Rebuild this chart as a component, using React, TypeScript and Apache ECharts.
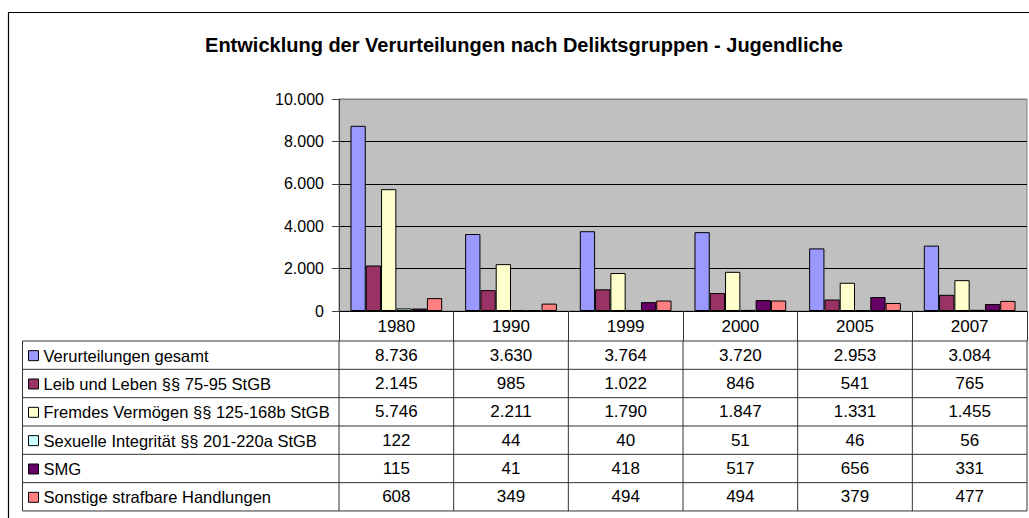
import React, { useEffect, useRef } from "react";
import * as echarts from "echarts";

const title = "Entwicklung der Verurteilungen nach Deliktsgruppen - Jugendliche";
const years = ["1980", "1990", "1999", "2000", "2005", "2007"];
const seriesNames = [
  "Verurteilungen gesamt",
  "Leib und Leben §§ 75-95 StGB",
  "Fremdes Vermögen §§ 125-168b StGB",
  "Sexuelle Integrität §§ 201-220a StGB",
  "SMG",
  "Sonstige strafbare Handlungen",
];
const gesamt = [8736, 3630, 3764, 3720, 2953, 3084];
const leibLeben = [2145, 985, 1022, 846, 541, 765];
const fremdesVermoegen = [5746, 2211, 1790, 1847, 1331, 1455];
const sexuelleIntegritaet = [122, 44, 40, 51, 46, 56];
const smg = [115, 41, 418, 517, 656, 331];
const sonstige = [608, 349, 494, 494, 379, 477];
const seriesValues = [gesamt, leibLeben, fremdesVermoegen, sexuelleIntegritaet, smg, sonstige];
const colors = ["#9999FF", "#993366", "#FFFFCC", "#CCFFFF", "#660066", "#FF8080"];

const FONT = 'Arial, "Liberation Sans", sans-serif';
const fmt = (n: number) => String(Math.round(n)).replace(/\B(?=(\d{3})+(?!\d))/g, ".");

export default function App() {
  const ref = useRef<HTMLDivElement>(null);
  useEffect(() => {
    if (!ref.current) return;
    const chart = echarts.init(ref.current, undefined, { renderer: "svg" });
    const GRID_LEFT = 339;
    const GRID_TOP = 99;
    const GRID_W = 688;
    const GRID_H = 212;
    const TICK_LEN = 30;
    const ROW_H = 28.33;
    const TABLE_LEFT = 22.5;
    const LEG_TEXT_H = 20;
    const TABLE_FS = 17;

    chart.setOption({
      animation: false,
      title: {
        text: title,
        left: 519,
        top: 30,
        textAlign: "center",
        textStyle: { fontFamily: FONT, fontSize: 20, fontWeight: "bold", color: "#000" },
      },
      legend: {
        orient: "vertical",
        left: 28,
        top: 341.5 + (ROW_H - LEG_TEXT_H) / 2,
        padding: 0,
        itemWidth: 10,
        itemHeight: 10,
        itemGap: ROW_H - LEG_TEXT_H,
        icon: "rect",
        itemStyle: { borderColor: "#000", borderWidth: 1 },
        textStyle: { fontFamily: FONT, fontSize: 16.5, color: "#000", lineHeight: LEG_TEXT_H },
        data: seriesNames,
      },
      grid: {
        left: GRID_LEFT,
        top: GRID_TOP,
        width: GRID_W,
        height: GRID_H,
        show: true,
        backgroundColor: "#C0C0C0",
        borderColor: "#808080",
        borderWidth: 1,
      },
      xAxis: {
        type: "category",
        data: years,
        boundaryGap: true,
        axisLine: { show: true, lineStyle: { color: "#000", width: 1 } },
        axisTick: { show: true, inside: false, length: TICK_LEN, lineStyle: { color: "#333" } },
        axisLabel: { margin: 7, fontFamily: FONT, fontSize: TABLE_FS, color: "#000" },
        splitLine: { show: false },
      },
      yAxis: {
        type: "value",
        min: 0,
        max: 10000,
        interval: 2000,
        axisLine: { show: true, lineStyle: { color: "#404040" } },
        axisTick: { show: true, length: 7, lineStyle: { color: "#404040" } },
        axisLabel: { margin: 15, fontFamily: FONT, fontSize: 16, color: "#000", formatter: (v: number) => fmt(v) },
        splitLine: {
          show: true,
          lineStyle: { color: ["#000", "#000", "#000", "#000", "#000", "#808080"], width: 1 },
        },
      },
      series: seriesNames.map((name, i) => ({
        name,
        type: "bar",
        data: seriesValues[i],
        barGap: "0%",
        barCategoryGap: "20%",
        itemStyle: { color: colors[i], borderColor: "#000", borderWidth: 1 },
      })),
    });

    // Build the data table from the axis scale
    const zeroY = chart.convertToPixel({ yAxisIndex: 0 }, 0) as number;
    const centers = years.map((_, i) => chart.convertToPixel({ xAxisIndex: 0 }, i) as number);
    const band = centers.length > 1 ? centers[1] - centers[0] : GRID_W;
    const bounds = [centers[0] - band / 2, ...centers.map((c) => c + band / 2)];
    const tableTop = zeroY + TICK_LEN;
    const rightX = bounds[bounds.length - 1];
    const tableBottom = tableTop + ROW_H * seriesNames.length;
    const lineStyle = { stroke: "#333", lineWidth: 1 };
    const graphics: any[] = [];
    // outer chart frame
    graphics.push({
      type: "rect",
      shape: { x: 8.5, y: 12.5, width: 1040, height: 520 },
      style: { fill: "none", stroke: "#000", lineWidth: 1.2 },
      silent: true,
      z: -10,
    });
    for (let r = 0; r <= seriesNames.length; r++) {
      const y = tableTop + r * ROW_H;
      graphics.push({
        type: "line",
        shape: { x1: TABLE_LEFT, y1: y, x2: rightX, y2: y },
        style: lineStyle,
        silent: true,
      });
    }
    [TABLE_LEFT, ...bounds].forEach((x) => {
      graphics.push({
        type: "line",
        shape: { x1: x, y1: tableTop, x2: x, y2: tableBottom },
        style: lineStyle,
        silent: true,
      });
    });
    seriesValues.forEach((vals, r) => {
      const cy = tableTop + (r + 0.5) * ROW_H;
      vals.forEach((v, c) => {
        graphics.push({
          type: "text",
          x: centers[c],
          y: cy,
          style: {
            text: fmt(v),
            fill: "#000",
            fontFamily: FONT,
            fontSize: TABLE_FS,
            textAlign: "center",
            textVerticalAlign: "middle",
            align: "center",
            verticalAlign: "middle",
          },
          silent: true,
        });
      });
    });
    chart.setOption({ graphic: graphics });

    return () => chart.dispose();
  }, []);
  return (
    <div
      ref={ref}
      style={{ position: "fixed", left: 0, top: 0, width: 1029, height: 518, background: "#fff" }}
    />
  );
}
